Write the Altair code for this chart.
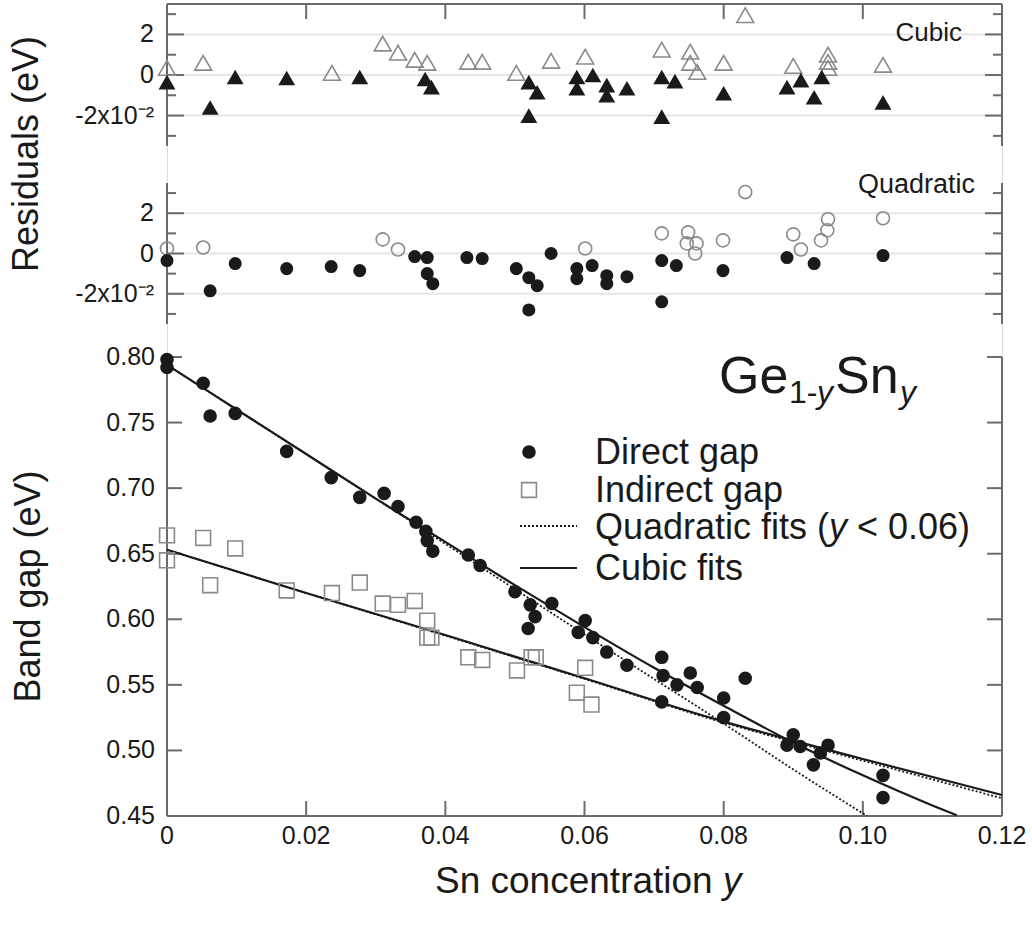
import altair as alt
import pandas as pd

FONT = "Liberation Sans"
INK = "#1a1a1a"
AXIS = "#6b6b6b"
OPEN = "#8a8a8a"
GRID = "#e6e6e6"

# plot geometry (one layered chart; panels stacked through scale ranges)
W = 835
H = 812
TOP_PX = [0, 142]
MID_PX = [179, 320]
MAIN_PX = [353, 812]
PAD_L, PAD_T = 167, 4
PAD_R = 1032 - PAD_L - W
PAD_B = 926 - PAD_T - H

X_DOMAIN = [0, 0.12]
R_DOMAIN = [-3.5, 3.5]
E_DOMAIN = [0.45, 0.80]

X_TICKS = [0, 0.02, 0.04, 0.06, 0.08, 0.10, 0.12]
X_LABELS = ["0", "0.02", "0.04", "0.06", "0.08", "0.10", "0.12"]
X_INNER_TICKS = [0.02, 0.04, 0.06, 0.08, 0.10]
E_TICKS = [0.45, 0.50, 0.55, 0.60, 0.65, 0.70, 0.75, 0.80]
E_LABELS = ["0.45", "0.50", "0.55", "0.60", "0.65", "0.70", "0.75", "0.80"]
R_MAJOR = [-2, 0, 2]
R_LABELS = ["-2x10⁻²", "0", "2"]
R_MINOR = [-3, -1, 1, 3]

# ---- main panel: band gaps (eV) vs Sn concentration ----
DIR_X = [0, 0, 0.0052, 0.0062, 0.0098, 0.0172, 0.0236, 0.0277, 0.0312, 0.0332, 0.0358,
         0.0372, 0.0374, 0.0382, 0.0433, 0.0450, 0.0500, 0.0519, 0.0522, 0.0529, 0.0553,
         0.0591, 0.0601, 0.0612, 0.0632, 0.0661, 0.0711, 0.0711, 0.0713, 0.0733, 0.0752,
         0.0762, 0.0800, 0.0800, 0.0831, 0.0891, 0.0900, 0.0910, 0.0929, 0.0939, 0.0950,
         0.1029, 0.1029]
DIR_Y = [0.798, 0.792, 0.780, 0.755, 0.757, 0.728, 0.708, 0.693, 0.696, 0.686, 0.674,
         0.667, 0.660, 0.652, 0.649, 0.641, 0.621, 0.593, 0.611, 0.602, 0.612,
         0.590, 0.599, 0.586, 0.575, 0.565, 0.571, 0.537, 0.557, 0.550, 0.559,
         0.548, 0.540, 0.525, 0.555, 0.504, 0.512, 0.503, 0.489, 0.498, 0.504,
         0.481, 0.464]

IND_X = [0, 0, 0.0052, 0.0062, 0.0098, 0.0172, 0.0237, 0.0277, 0.0310, 0.0332, 0.0356,
         0.0374, 0.0374, 0.0380, 0.0433, 0.0453, 0.0503, 0.0524, 0.0530, 0.0589, 0.0601,
         0.0610]
IND_Y = [0.664, 0.645, 0.662, 0.626, 0.654, 0.622, 0.620, 0.628, 0.612, 0.611, 0.614,
         0.599, 0.586, 0.586, 0.571, 0.569, 0.561, 0.571, 0.571, 0.544, 0.563,
         0.535]

CUB_DIR_X = [0, 0.01, 0.02, 0.03, 0.04, 0.05, 0.06, 0.07, 0.08, 0.09, 0.10, 0.11, 0.1135]
CUB_DIR_Y = [0.794, 0.760, 0.726, 0.692, 0.659, 0.626, 0.594, 0.563, 0.534, 0.506, 0.481, 0.458, 0.4505]

QUA_DIR_X = [0, 0.01, 0.02, 0.03, 0.04, 0.05, 0.06, 0.07, 0.08, 0.09, 0.1006]
QUA_DIR_Y = [0.794, 0.760, 0.726, 0.692, 0.6575, 0.623, 0.5885, 0.5545, 0.5205, 0.4855, 0.450]

CUB_IND_X = [0, 0.02, 0.04, 0.06, 0.08, 0.09, 0.10, 0.12]
CUB_IND_Y = [0.653, 0.620, 0.588, 0.555, 0.522, 0.5075, 0.4935, 0.466]

QUA_IND_X = [0, 0.02, 0.04, 0.06, 0.08, 0.09, 0.10, 0.12]
QUA_IND_Y = [0.653, 0.620, 0.5875, 0.5545, 0.5212, 0.5065, 0.4922, 0.4635]

# ---- residuals (units of 1e-2 eV) ----
CUB_DIR_RX = [0, 0.0062, 0.0098, 0.0172, 0.0277, 0.0371, 0.0380, 0.0520, 0.0532, 0.0520,
              0.0589, 0.0589, 0.0612, 0.0632, 0.0632, 0.0661, 0.0711, 0.0730, 0.0711,
              0.0800, 0.0891, 0.0911, 0.0930, 0.0941, 0.1029]
CUB_DIR_R = [-0.35, -1.6, -0.1, -0.15, -0.1, -0.2, -0.6, -0.35, -0.85, -2.0,
             -0.1, -0.65, 0.0, -0.5, -1.0, -0.65, -0.1, -0.3, -2.05,
             -0.9, -0.6, -0.25, -1.1, -0.1, -1.35]

CUB_IND_RX = [0, 0.0052, 0.0237, 0.0310, 0.0332, 0.0356, 0.0374, 0.0433, 0.0453, 0.0502,
              0.0552, 0.0601, 0.0711, 0.0752, 0.0752, 0.0762, 0.0800, 0.0831, 0.0900,
              0.0950, 0.0950, 0.0950, 0.1029]
CUB_IND_R = [0.35, 0.6, 0.1, 1.55, 1.1, 0.75, 0.6, 0.65, 0.65, 0.1,
             0.7, 0.9, 1.25, 1.15, 0.6, 0.15, 0.6, 2.95, 0.45,
             1.0, 0.65, 0.35, 0.5]

QUA_DIR_RX = [0, 0.0062, 0.0098, 0.0172, 0.0236, 0.0277, 0.0356, 0.0374, 0.0374, 0.0382,
              0.0431, 0.0453, 0.0502, 0.0520, 0.0532, 0.0520, 0.0552, 0.0589, 0.0589,
              0.0611, 0.0632, 0.0632, 0.0661, 0.0711, 0.0711, 0.0732, 0.0799, 0.0891,
              0.0930, 0.1029]
QUA_DIR_R = [-0.35, -1.85, -0.5, -0.75, -0.65, -0.85, -0.15, -0.2, -1.0, -1.5,
             -0.2, -0.25, -0.75, -1.2, -1.6, -2.8, 0.0, -0.75, -1.25,
             -0.6, -1.1, -1.5, -1.15, -0.35, -2.4, -0.6, -0.85, -0.2,
             -0.5, -0.1]

QUA_IND_RX = [0, 0.0052, 0.0310, 0.0332, 0.0601, 0.0711, 0.0749, 0.0747, 0.0761, 0.0759,
              0.0799, 0.0831, 0.0900, 0.0911, 0.0940, 0.0949, 0.0950, 0.1029]
QUA_IND_R = [0.25, 0.3, 0.7, 0.2, 0.25, 1.0, 1.05, 0.5, 0.5, 0.0,
             0.65, 3.05, 0.95, 0.2, 0.65, 1.15, 1.7, 1.75]

xs = alt.Scale(domain=X_DOMAIN, range=[0, W], nice=False, zero=False)
top_s = alt.Scale(domain=R_DOMAIN, range=[TOP_PX[1], TOP_PX[0]], nice=False, zero=False)
mid_s = alt.Scale(domain=R_DOMAIN, range=[MID_PX[1], MID_PX[0]], nice=False, zero=False)
main_s = alt.Scale(domain=E_DOMAIN, range=[MAIN_PX[1], MAIN_PX[0]], nice=False, zero=False)

ONE = pd.DataFrame({"k": [0]})


def X(field="x"):
    return alt.X(f"{field}:Q", scale=xs, axis=None)


def Y(field, scale):
    return alt.Y(f"{field}:Q", scale=scale, axis=None)


def txt(text, x, y, size, italic=False, align="left", baseline="alphabetic", angle=0):
    kw = {}
    if angle:
        kw["angle"] = angle
    return alt.Chart(pd.DataFrame({"t": [text]})).mark_text(
        align=align, baseline=baseline, font=FONT, fontSize=size,
        fontStyle="italic" if italic else "normal", color=INK, **kw
    ).encode(text="t:N", x=alt.value(x), y=alt.value(y))


def yrules(vals, scale, x0, x1, color=AXIS, width=2):
    return alt.Chart(pd.DataFrame({"v": vals})).mark_rule(color=color, strokeWidth=width).encode(
        y=Y("v", scale), x=alt.value(x0), x2=alt.value(x1))


def xrules(vals, y0, y1):
    return alt.Chart(pd.DataFrame({"v": vals})).mark_rule(color=AXIS, strokeWidth=2).encode(
        x=X("v"), y=alt.value(y0), y2=alt.value(y1))


def vline(x, y0, y1):
    return alt.Chart(ONE).mark_rule(color=AXIS, strokeWidth=2).encode(
        x=alt.value(x), y=alt.value(y0), y2=alt.value(y1))


def hline(y):
    return alt.Chart(ONE).mark_rule(color=AXIS, strokeWidth=2).encode(
        x=alt.value(0), x2=alt.value(W), y=alt.value(y))


def ylabels(vals, labels, scale, pad):
    return alt.Chart(pd.DataFrame({"v": vals, "lab": labels})).mark_text(
        align="right", baseline="middle", font=FONT, fontSize=25, color=INK).encode(
        y=Y("v", scale), x=alt.value(-pad), text="lab:N")


def points(xv, yv, scale, shape, size, filled):
    if filled:
        mk = dict(shape=shape, filled=True, color=INK, size=size, opacity=1)
    else:
        mk = dict(shape=shape, filled=False, color=OPEN, strokeWidth=1.6, size=size, opacity=1)
    return alt.Chart(pd.DataFrame({"x": xv, "y": yv})).mark_point(**mk).encode(
        x=X(), y=Y("y", scale))


def curve(xv, yv, dashed):
    kw = dict(color=INK, strokeWidth=1.8 if dashed else 2.2, interpolate="monotone")
    if dashed:
        kw["strokeDash"] = [2, 2]
    return alt.Chart(pd.DataFrame({"x": xv, "y": yv})).mark_line(**kw).encode(
        x=X(), y=Y("y", main_s))


def residual_frame(scale, px):
    return [
        yrules(R_MAJOR, scale, 0, W, color=GRID, width=2),
        vline(0, px[0], px[1]), vline(W, px[0], px[1]),
        yrules(R_MAJOR, scale, 0, 17), yrules(R_MINOR, scale, 0, 9),
        yrules(R_MAJOR, scale, W - 17, W), yrules(R_MINOR, scale, W - 9, W),
        ylabels(R_MAJOR, R_LABELS, scale, 13),
    ]


# ---- top: cubic residuals ----
top_layers = residual_frame(top_s, TOP_PX) + [
    hline(TOP_PX[0]), xrules(X_INNER_TICKS, TOP_PX[0], TOP_PX[0] + 15),
    points(CUB_IND_RX, CUB_IND_R, top_s, "triangle-up", 285, False),
    points(CUB_DIR_RX, CUB_DIR_R, top_s, "triangle-up", 285, True),
    txt("Cubic", 795, TOP_PX[0] + 29, 26, align="right", baseline="middle"),
]

# ---- middle: quadratic residuals ----
mid_layers = residual_frame(mid_s, MID_PX) + [
    points(QUA_IND_RX, QUA_IND_R, mid_s, "circle", 170, False),
    points(QUA_DIR_RX, QUA_DIR_R, mid_s, "circle", 170, True),
    txt("Quadratic", 808, MID_PX[0] + 2, 27, align="right", baseline="middle"),
    txt("Residuals (eV)", -121, 150, 36, align="center", baseline="bottom", angle=270),
]

# ---- main panel ----
M0 = MAIN_PX[0]
M1 = MAIN_PX[1]
LEG = 36
main_layers = [
    vline(0, M0, M1), vline(W, M0, M1), hline(M1),
    yrules(E_TICKS, main_s, 0, 15), yrules(E_TICKS, main_s, W - 15, W),
    xrules(X_INNER_TICKS, M1 - 15, M1),
    ylabels(E_TICKS, E_LABELS, main_s, 12),
    alt.Chart(pd.DataFrame({"v": X_TICKS, "lab": X_LABELS})).mark_text(
        align="center", baseline="top", font=FONT, fontSize=25, color=INK).encode(
        x=X("v"), y=alt.value(M1 + 8), text="lab:N"),
    curve(QUA_DIR_X, QUA_DIR_Y, True), curve(QUA_IND_X, QUA_IND_Y, True),
    curve(CUB_DIR_X, CUB_DIR_Y, False), curve(CUB_IND_X, CUB_IND_Y, False),
    points(IND_X, IND_Y, main_s, "square", 220, False),
    points(DIR_X, DIR_Y, main_s, "circle", 185, True),
    # legend
    alt.Chart(ONE).mark_point(shape="circle", filled=True, color=INK, size=185, opacity=1).encode(
        x=alt.value(362), y=alt.value(M0 + 95)),
    alt.Chart(ONE).mark_point(shape="square", filled=False, color=OPEN, strokeWidth=1.6,
                              size=220, opacity=1).encode(x=alt.value(362), y=alt.value(M0 + 133)),
    alt.Chart(ONE).mark_rule(color=INK, strokeWidth=1.8, strokeDash=[2, 2]).encode(
        x=alt.value(353), x2=alt.value(410), y=alt.value(M0 + 169)),
    alt.Chart(ONE).mark_rule(color=INK, strokeWidth=2.2).encode(
        x=alt.value(353), x2=alt.value(410), y=alt.value(M0 + 211)),
    txt("Direct gap", 428, M0 + 96, LEG, baseline="middle"),
    txt("Indirect gap", 428, M0 + 134, LEG, baseline="middle"),
    txt("Quadratic fits (", 428, M0 + 171, LEG, baseline="middle"),
    txt("y", 662, M0 + 171, LEG, italic=True, baseline="middle"),
    txt("< 0.06)", 690, M0 + 171, LEG, baseline="middle"),
    txt("Cubic fits", 428, M0 + 212, LEG, baseline="middle"),
    # compound label
    txt("Ge", 552, M0 + 36, 52),
    txt("1-", 622, M0 + 46, 32),
    txt("y", 650, M0 + 46, 32, italic=True),
    txt("Sn", 668, M0 + 36, 52),
    txt("y", 733, M0 + 46, 32, italic=True),
    # axis titles
    txt("Band gap (eV)", -119, (M0 + M1) / 2, 36, align="center", baseline="bottom", angle=270),
    txt("Sn concentration", 268, M0 + 536, 37),
    txt("y", 556, M0 + 536, 37, italic=True),
]

chart = alt.layer(*(top_layers + mid_layers + main_layers)).resolve_scale(
    y="independent"
).properties(
    width=W, height=H,
    padding={"left": PAD_L, "top": PAD_T, "right": PAD_R, "bottom": PAD_B},
    autosize=alt.AutoSizeParams(type="none"),
).configure_view(stroke=None).configure(background="white")

chart.save("out.html", embed_options={"renderer": "svg", "actions": False})
